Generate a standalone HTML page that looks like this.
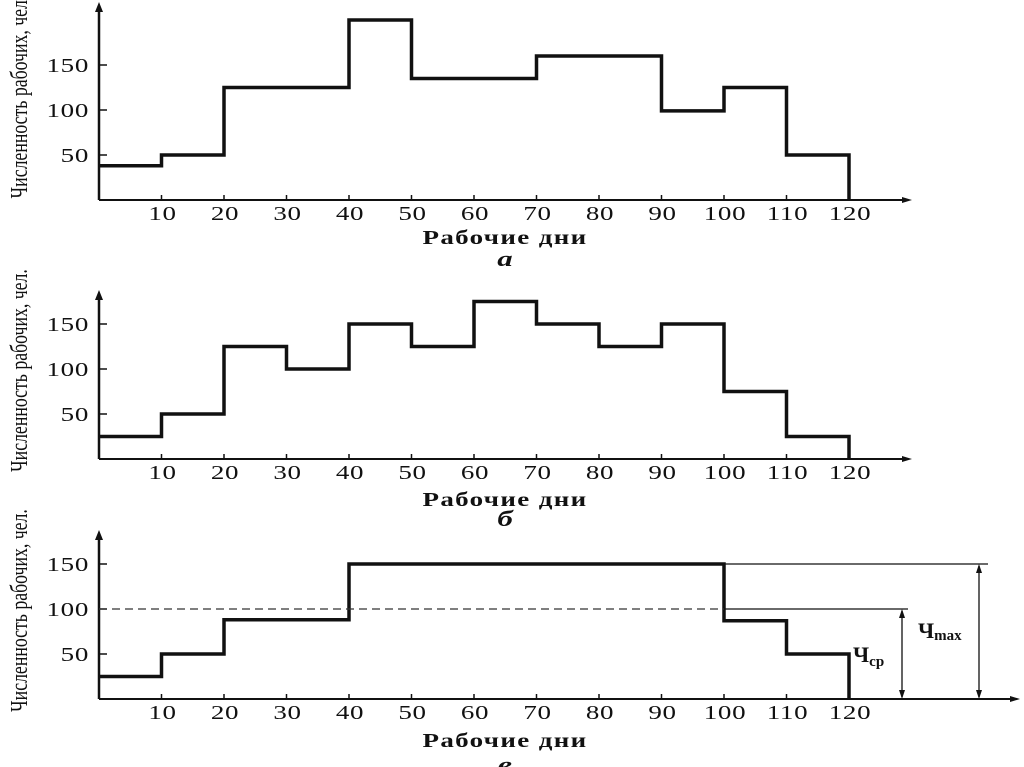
<!DOCTYPE html>
<html><head><meta charset="utf-8"><style>
html,body{margin:0;padding:0;background:#fff;width:1024px;height:767px;overflow:hidden}
svg{display:block}
text{font-family:"Liberation Serif","DejaVu Serif",serif;fill:#111}
</style></head><body>
<svg id="s" width="1024" height="767" viewBox="0 0 1024 767"></svg>
<script>
const days=[0,10,20,30,40,50,60,70,80,90,100,110,120];
const xTicks=[10,20,30,40,50,60,70,80,90,100,110,120];
const yTicks=[50,100,150];
const seriesA=[38,50,125,125,200,135,135,160,160,99,125,50];
const seriesB=[25,50,125,100,150,125,175,150,125,150,75,25];
const seriesC=[25,50,88,88,150,150,150,150,150,150,87,50];
const avgC=100, maxC=150;
const NS="http://www.w3.org/2000/svg";
const svg=document.getElementById('s');
function mk(t,a,p){const e=document.createElementNS(NS,t);for(const k in a)e.setAttribute(k,a[k]);(p||svg).appendChild(e);return e;}
const X0=99,PX=6.25;
function xs(v){return X0+v*PX;}
const charts=[
 {data:seriesA,y0:200,top:2,xEnd:912,name:'chart-a',label:'а',ly:266,xl:244},
 {data:seriesB,y0:459,top:290,xEnd:912,name:'chart-b',label:'б',ly:526,xl:506},
 {data:seriesC,y0:699,top:530,xEnd:1020,name:'chart-c',label:'в',ly:772,xl:747}
];
charts.forEach(c=>{
 const g=mk('g',{});
 
 
 const ys=v=>c.y0-v*0.9;
 const ya=mk('line',{x1:X0,y1:c.y0,x2:X0,y2:c.top+8,stroke:'#111','stroke-width':2.5},g);
 
 mk('path',{d:`M${X0-4},${c.top+10}L${X0},${c.top}L${X0+4},${c.top+10}Z`,fill:'#111'},g);
 const xa=mk('line',{x1:X0,y1:c.y0,x2:c.xEnd-8,y2:c.y0,stroke:'#111','stroke-width':2},g);
 
 mk('path',{d:`M${c.xEnd-10},${c.y0-3}L${c.xEnd},${c.y0}L${c.xEnd-10},${c.y0+3}Z`,fill:'#111'},g);
 xTicks.forEach(t=>{
  mk('line',{x1:xs(t),y1:c.y0,x2:xs(t),y2:c.y0-5,stroke:'#111','stroke-width':1.5},g);
  const tx=mk('text',{x:0,y:0,'text-anchor':'middle','font-size':20,'letter-spacing':'0.5',transform:`translate(${xs(t)+1},${c.y0+20}) scale(1.35,1)`},g);tx.textContent=t;
  
 });
 yTicks.forEach(t=>{
  mk('line',{x1:X0,y1:ys(t),x2:X0+8,y2:ys(t),stroke:'#111','stroke-width':1.5},g);
  const tx=mk('text',{x:0,y:0,'text-anchor':'end','font-size':20,'letter-spacing':'0.5',transform:`translate(${X0-10},${ys(t)+7}) scale(1.35,1)`},g);tx.textContent=t;
  
 });
 let d=`M${xs(0)},${ys(c.data[0])}`;
 c.data.forEach((v,i)=>{d+=`L${xs(days[i])},${ys(v)}L${xs(days[i+1])},${ys(v)}`;});
 d+=`L${xs(120)},${c.y0}`;
 const p=mk('path',{d:d,fill:'none',stroke:'#111','stroke-width':3.5},g);
 
 const xl=mk('text',{x:0,y:0,'text-anchor':'middle','font-size':20,'font-weight':'bold','letter-spacing':'1',transform:`translate(505,${c.xl}) scale(1.35,1)`},g);xl.textContent='Рабочие дни';
 
 const sl=mk('text',{x:0,y:0,'text-anchor':'middle','font-size':22,'font-style':'italic','font-weight':'bold',transform:`translate(505,${c.ly}) scale(1.4,1)`},g);sl.textContent=c.label;
 
 const cy=(c.top+c.y0)/2-4;
 const yt=mk('text',{x:0,y:0,'text-anchor':'middle','font-size':24,transform:`translate(27,${cy}) rotate(-90) scale(0.74,1)`},g);yt.textContent='Численность рабочих,  чел.';
 
 if(c.name==='chart-c'){
  const ya2=ys(avgC),ym=ys(maxC);
  const dl=mk('line',{x1:X0,y1:ya2,x2:xs(100),y2:ya2,stroke:'#333','stroke-width':1.3,'stroke-dasharray':'8,5'},g);
  
  mk('line',{x1:xs(100),y1:ya2,x2:908,y2:ya2,stroke:'#111','stroke-width':1.3},g);
  mk('line',{x1:xs(100),y1:ym,x2:988,y2:ym,stroke:'#111','stroke-width':1.3},g);
  [[902,ya2],[979,ym]].forEach(([x,yt2])=>{
   mk('line',{x1:x,y1:yt2+2,x2:x,y2:c.y0-2,stroke:'#111','stroke-width':1.3},g);
   mk('path',{d:`M${x-3},${yt2+9}L${x},${yt2}L${x+3},${yt2+9}Z`,fill:'#111'},g);
   mk('path',{d:`M${x-3},${c.y0-9}L${x},${c.y0}L${x+3},${c.y0-9}Z`,fill:'#111'},g);
  });
  const a=mk('text',{x:853,y:662,'font-size':22,'font-weight':'bold'},g);a.innerHTML='Ч<tspan font-size="15" dy="4">ср</tspan>';
  
  const b=mk('text',{x:918,y:638,'font-size':22,'font-weight':'bold'},g);b.innerHTML='Ч<tspan font-size="15" dy="2">max</tspan>';
  
 }
});
</script>
</body></html>
